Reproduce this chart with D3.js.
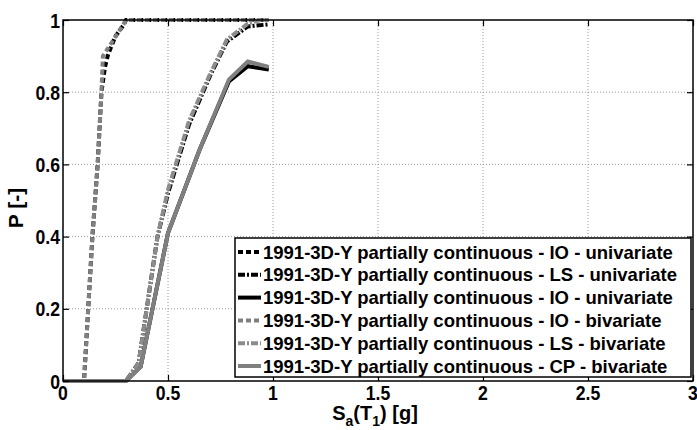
<!DOCTYPE html>
<html>
<head>
<meta charset="utf-8">
<script src="https://cdn.jsdelivr.net/npm/d3@7"></script>
<style>
  html, body { margin: 0; padding: 0; background: #fff; }
  svg { display: block; }
  text { font-family: "Liberation Sans", Arial, sans-serif; font-weight: bold; fill: #000; }
</style>
</head>
<body>
<svg id="chart" width="697" height="430"></svg>
<script>
// Fragility curves: probability of exceeding each limit state vs spectral acceleration
const xTicks = [0, 0.5, 1, 1.5, 2, 2.5, 3];
const yTicks = [0, 0.2, 0.4, 0.6, 0.8, 1];
const xTickLabels = ["0", "0.5", "1", "1.5", "2", "2.5", "3"];
const yTickLabels = ["0", "0.2", "0.4", "0.6", "0.8", "1"];

const seriesNames = [
  "1991-3D-Y partially continuous - IO - univariate",
  "1991-3D-Y partially continuous - LS - univariate",
  "1991-3D-Y partially continuous - IO - univariate",
  "1991-3D-Y partially continuous - IO - bivariate",
  "1991-3D-Y partially continuous - LS - bivariate",
  "1991-3D-Y partially continuous - CP - bivariate"
];

// Sa(T1) [g] and P [-] for each curve
const ioUniSa  = [0, 0.1, 0.12, 0.14, 0.165, 0.183, 0.2, 0.215, 0.25, 0.287, 0.3, 0.98];
const ioUniP   = [0, 0, 0.2, 0.4, 0.6, 0.8, 0.87, 0.905, 0.955, 0.985, 1, 1];
const lsUniSa  = [0, 0.3, 0.36, 0.45, 0.5, 0.6, 0.7, 0.78, 0.88, 0.98];
const lsUniP   = [0, 0, 0.05, 0.4, 0.52, 0.71, 0.845, 0.94, 0.982, 0.988];
const cpUniSa  = [0, 0.3, 0.37, 0.5, 0.65, 0.79, 0.88, 0.98];
const cpUniP   = [0, 0, 0.04, 0.41, 0.64, 0.83, 0.872, 0.863];
const ioBiSa   = [0, 0.1, 0.12, 0.14, 0.165, 0.183, 0.19, 0.29, 0.3, 0.98];
const ioBiP    = [0, 0, 0.2, 0.4, 0.6, 0.8, 0.9, 0.99, 1, 1];
const lsBiSa   = [0, 0.3, 0.36, 0.45, 0.5, 0.6, 0.7, 0.78, 0.88, 0.94, 0.98];
const lsBiP    = [0, 0, 0.05, 0.4, 0.53, 0.72, 0.85, 0.945, 0.99, 1, 1];
const cpBiSa   = [0, 0.3, 0.37, 0.5, 0.65, 0.79, 0.88, 0.98];
const cpBiP    = [0, 0, 0.04, 0.41, 0.64, 0.835, 0.885, 0.87];

const seriesSa = [ioUniSa, lsUniSa, cpUniSa, ioBiSa, lsBiSa, cpBiSa];
const seriesP  = [ioUniP, lsUniP, cpUniP, ioBiP, lsBiP, cpBiP];
const seriesColor = ["#000000", "#000000", "#000000", "#808080", "#8c8c8c", "#808080"];
const seriesDash  = ["5,3", "7,2,2,2", null, "5,3", "7,2,2,2", null];

const svg = d3.select("#chart");
const W = 697, H = 430;
const plotL = 63, plotR = 693, plotT = 20, plotB = 381;

svg.append("rect").attr("width", W).attr("height", H).attr("fill", "#fff");

const x = d3.scaleLinear().domain([0, 3]).range([plotL, plotR]);
const y = d3.scaleLinear().domain([0, 1]).range([plotB, plotT]);

// dotted grid
const grid = svg.append("g");
grid.selectAll("line.gx").data(xTicks.slice(1, -1)).join("line")
  .attr("x1", d => x(d)).attr("x2", d => x(d))
  .attr("y1", plotT).attr("y2", plotB)
  .attr("stroke", "#9a9a9a").attr("stroke-width", 1).attr("stroke-dasharray", "1,2");
grid.selectAll("line.gy").data(yTicks.slice(1, -1)).join("line")
  .attr("x1", plotL).attr("x2", plotR)
  .attr("y1", d => y(d)).attr("y2", d => y(d))
  .attr("stroke", "#9a9a9a").attr("stroke-width", 1).attr("stroke-dasharray", "1,2");

// curves
const line = d3.line().x(d => x(d[0])).y(d => y(d[1]));
seriesSa.forEach((sa, i) => {
  const pts = sa.map((v, k) => [v, seriesP[i][k]]);
  svg.append("path")
    .attr("d", line(pts))
    .attr("fill", "none")
    .attr("stroke", seriesColor[i])
    .attr("stroke-width", 4)
    .attr("stroke-linejoin", "miter")
    .attr("stroke-dasharray", seriesDash[i]);
});

// axes box with inward ticks
svg.append("rect")
  .attr("x", plotL).attr("y", plotT).attr("width", plotR - plotL).attr("height", plotB - plotT)
  .attr("fill", "none").attr("stroke", "#000").attr("stroke-width", 1.5);

const xAxisB = d3.axisBottom(x).tickValues(xTicks).tickSize(-6).tickFormat("");
const xAxisT = d3.axisTop(x).tickValues(xTicks).tickSize(-6).tickFormat("");
const yAxisL = d3.axisLeft(y).tickValues(yTicks).tickSize(-6).tickFormat("");
const yAxisR = d3.axisRight(y).tickValues(yTicks).tickSize(-6).tickFormat("");
[[xAxisB, `translate(0,${plotB})`], [xAxisT, `translate(0,${plotT})`],
 [yAxisL, `translate(${plotL},0)`], [yAxisR, `translate(${plotR},0)`]].forEach(([ax, tr]) => {
  const g = svg.append("g").attr("transform", tr).call(ax);
  g.select(".domain").remove();
  g.selectAll(".tick line").attr("stroke", "#000").attr("stroke-width", 1.2);
});

// tick labels (bold, slightly condensed)
const sx = 0.86;
svg.append("g").selectAll("text").data(xTicks).join("text")
  .attr("transform", d => `translate(${x(d)},400) scale(${sx},1)`)
  .attr("text-anchor", "middle")
  .style("font-size", "20.5px")
  .text((d, i) => xTickLabels[i]);
svg.append("g").selectAll("text").data(yTicks).join("text")
  .attr("transform", d => `translate(60,${y(d) + 7.5}) scale(${sx},1)`)
  .attr("text-anchor", "end")
  .style("font-size", "20.5px")
  .text((d, i) => yTickLabels[i]);

// axis titles
svg.append("text")
  .attr("transform", "translate(23,208) rotate(-90)")
  .attr("text-anchor", "middle")
  .style("font-size", "21px")
  .text("P [-]");

const xt = svg.append("text")
  .attr("transform", "translate(375,420)")
  .attr("text-anchor", "middle")
  .style("font-size", "20px");
xt.append("tspan").text("S");
xt.append("tspan").attr("dy", 6).style("font-size", "14px").text("a");
xt.append("tspan").attr("dy", -6).text("(T");
xt.append("tspan").attr("dy", 6).style("font-size", "14px").text("1");
xt.append("tspan").attr("dy", -6).text(") [g]");

// legend
const lgX = 235, lgY = 238, lgW = 456, lgH = 139;
const lg = svg.append("g");
lg.append("rect")
  .attr("x", lgX).attr("y", lgY).attr("width", lgW).attr("height", lgH)
  .attr("fill", "#fff").attr("stroke", "#000").attr("stroke-width", 1.5);
const rowY = d3.scaleLinear().domain([0, 5]).range([252, 366]);
seriesNames.forEach((name, i) => {
  lg.append("line")
    .attr("x1", 238).attr("x2", 261)
    .attr("y1", rowY(i)).attr("y2", rowY(i))
    .attr("stroke", seriesColor[i]).attr("stroke-width", 4)
    .attr("stroke-dasharray", seriesDash[i]);
  lg.append("text")
    .attr("x", 263).attr("y", rowY(i) + 6.5)
    .style("font-size", "18.5px")
    .text(name);
});
</script>
</body>
</html>
